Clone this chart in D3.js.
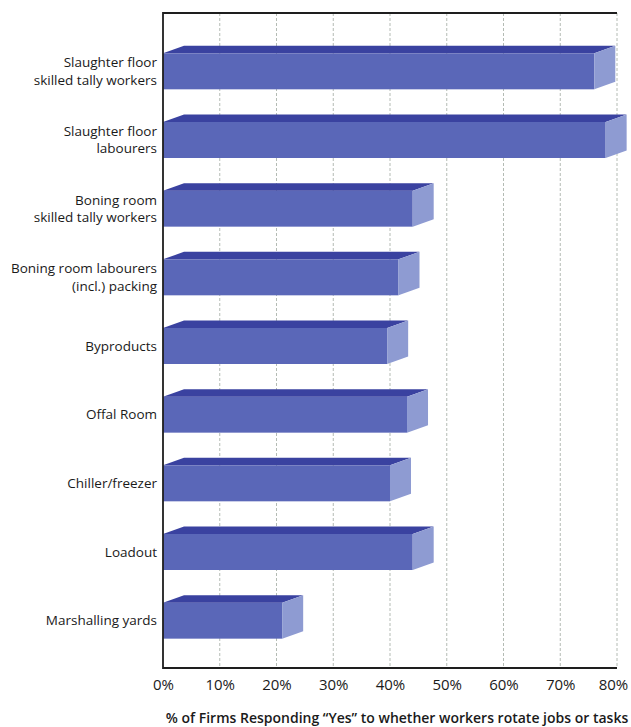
<!DOCTYPE html>
<html>
<head>
<meta charset="utf-8">
<script src="https://cdn.jsdelivr.net/npm/d3@7"></script>
<style>
  body { margin: 0; background: #fff; }
  svg { display: block; font-family: "Open Sans", sans-serif; }
</style>
</head>
<body>
<svg></svg>
<script>
let categories = [
    "Slaughter floor|skilled tally workers",
    "Slaughter floor|labourers",
    "Boning room|skilled tally workers",
    "Boning room labourers|(incl.) packing",
    "Byproducts",
    "Offal Room",
    "Chiller/freezer",
    "Loadout",
    "Marshalling yards"
];
let values = [76, 78, 44, 41.5, 39.5, 43, 40, 44, 21];
let ticks = [0, 10, 20, 30, 40, 50, 60, 70, 80];
let axisTitle = "% of Firms Responding \u201cYes\u201d to whether workers rotate jobs or tasks";

let width = 631;
let height = 727;
let plotLeft = 163;
let plotRight = 617;
let plotTop = 13;
let plotBottom = 668;
let dx = 21;
let dy = 7.5;

let svg = d3.select("svg")
    .attr("width", width)
    .attr("height", height);

let xScale = d3.scaleLinear()
    .domain([0, 80])
    .range([plotLeft, plotRight]);

let yScale = d3.scaleBand()
    .domain(categories)
    .range([37, 655])
    .paddingInner(0.476)
    .paddingOuter(0.238);

// dashed grid lines
svg.append("g")
    .selectAll("line")
    .data(ticks.slice(1))
    .enter()
    .append("line")
    .attr("x1", d => xScale(d))
    .attr("x2", d => xScale(d))
    .attr("y1", plotTop)
    .attr("y2", plotBottom)
    .attr("stroke", "#b4bbb4")
    .attr("stroke-width", 1)
    .attr("stroke-dasharray", "3,2");

let bars = svg.append("g")
    .selectAll("g")
    .data(categories)
    .enter()
    .append("g");

bars.append("rect")
    .attr("x", xScale(0))
    .attr("y", d => yScale(d))
    .attr("width", (d, i) => xScale(values[i]) - xScale(0))
    .attr("height", yScale.bandwidth())
    .attr("fill", "#5a67b8");

bars.append("polygon")
    .attr("points", (d, i) => {
        let x0 = xScale(0);
        let x1 = xScale(values[i]);
        let y = yScale(d);
        return [[x0, y], [x0 + dx, y - dy], [x1 + dx, y - dy], [x1, y]].join(" ");
    })
    .attr("fill", "#3a42a0");

bars.append("polygon")
    .attr("points", (d, i) => {
        let x1 = xScale(values[i]);
        let y = yScale(d);
        let h = yScale.bandwidth();
        return [[x1, y], [x1 + dx, y - dy], [x1 + dx, y + h - dy], [x1, y + h]].join(" ");
    })
    .attr("fill", "#8e9bd2");

// frame
svg.append("path")
    .attr("d", `M${plotRight},${plotTop}H${plotLeft}V${plotBottom}H${plotRight}`)
    .attr("fill", "none")
    .attr("stroke", "#1e1e1e")
    .attr("stroke-width", 1.8);

// category labels
let labels = svg.append("g")
    .selectAll("text")
    .data(categories)
    .enter()
    .append("text")
    .attr("text-anchor", "end")
    .attr("font-size", 13.5)
    .attr("fill", "#1a1a1a");

labels.each(function (d) {
    let lines = d.split("|");
    let cy = yScale(d) + yScale.bandwidth() / 2;
    let lh = 17.3;
    let y0 = cy - (lines.length - 1) * lh / 2;
    lines.forEach((line, j) => {
        d3.select(this)
            .append("tspan")
            .attr("x", 157)
            .attr("y", y0 + j * lh)
            .attr("dy", "0.35em")
            .text(line);
    });
});

// x axis tick labels
let xAxis = d3.axisBottom(xScale)
    .tickValues(ticks)
    .tickSize(0)
    .tickPadding(0)
    .tickFormat(d => d + "%");

let axisG = svg.append("g")
    .attr("transform", `translate(0, ${plotBottom})`)
    .call(xAxis);

axisG.select(".domain").remove();
axisG.selectAll("text")
    .attr("y", 17)
    .attr("dy", "0.35em")
    .attr("x", d => d === 80 ? -4 : 0)
    .attr("font-family", "Open Sans, sans-serif")
    .attr("font-size", 15)
    .attr("fill", "#1a1a1a");

svg.append("text")
    .attr("x", 397)
    .attr("y", 718)
    .attr("dy", "0.35em")
    .attr("text-anchor", "middle")
    .attr("font-size", 14)
    .attr("font-weight", 600)
    .attr("fill", "#1a1a1a")
    .text(axisTitle);
</script>
</body>
</html>
